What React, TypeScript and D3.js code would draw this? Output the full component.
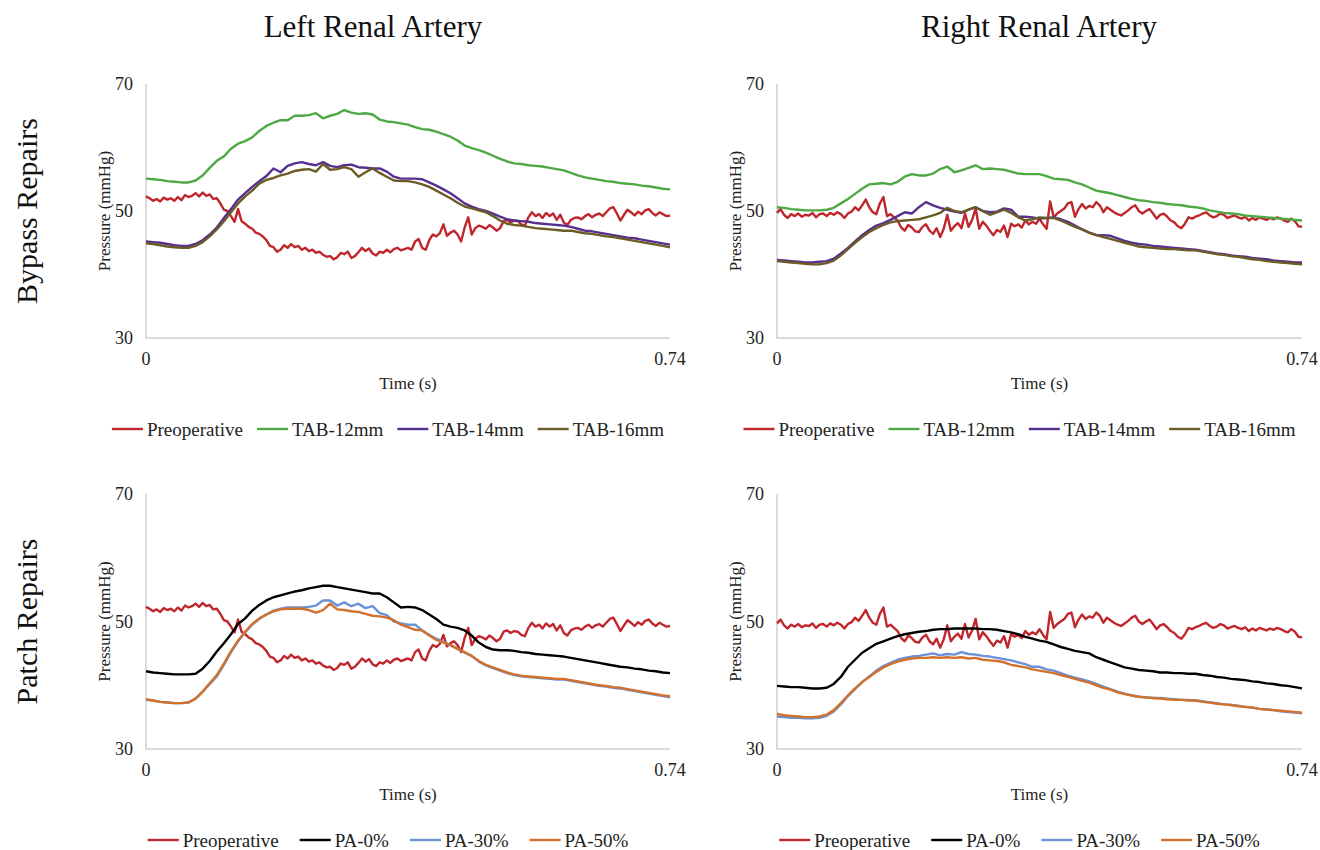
import * as d3 from "d3";

const FONT = "'Liberation Serif', 'Times New Roman', serif";
const T_END = 0.74;
const Y_TICKS = [30, 50, 70];
const X_TICKS = [0, 0.74];
const COLUMN_TITLES = ["Left Renal Artery", "Right Renal Artery"];
const ROW_TITLES = ["Bypass Repairs", "Patch Repairs"];

// preoperative pressure, sampled every 0.005 s
const leftPreop = [
  52.3, 52.0, 51.6, 51.9, 51.5, 52.1, 51.8, 52.0, 51.6, 52.2, 51.7, 52.5, 52.2, 52.4, 52.8, 52.3, 52.9, 52.4, 52.6, 51.9,
  52.0, 51.2, 50.2, 50.0, 49.2, 48.3, 50.3, 48.4, 48.0, 47.5, 47.2, 46.6, 46.4, 46.0, 45.4, 44.5, 44.3, 43.6, 43.9, 44.6,
  44.2, 44.8, 44.3, 44.5, 43.9, 44.2, 43.7, 43.9, 43.4, 43.6, 43.1, 42.8, 42.9, 42.4, 42.7, 43.4, 43.2, 43.6, 42.6, 42.9,
  43.5, 44.2, 43.7, 44.1, 43.3, 43.0, 43.6, 43.4, 43.9, 43.5, 44.0, 44.2, 43.8, 44.0, 44.2, 43.9, 45.2, 45.6, 44.2, 43.9,
  45.4, 46.3, 46.0, 46.5, 47.9, 46.1, 46.6, 46.9, 46.3, 45.2, 47.4, 49.0, 46.3, 47.3, 47.7, 47.5, 47.2, 47.8, 47.4, 46.9,
  47.3, 48.4, 48.6, 48.2, 48.5, 48.4, 47.9, 47.7, 49.0, 49.8, 49.2, 49.5, 48.9, 49.7, 49.2, 49.6, 48.6, 49.4, 48.2, 47.8,
  48.6, 48.9, 49.0, 48.7, 49.2, 49.5, 49.0, 49.4, 49.6, 49.2, 49.8, 50.4, 50.6, 49.6, 48.5, 49.4, 50.2, 49.8, 49.3, 49.9,
  49.5, 50.1, 50.3, 49.7, 49.3, 49.8, 49.5, 49.2, 49.3,
];
const rightPreop = [
  49.7, 50.3, 49.4, 48.9, 49.5, 49.2, 49.6, 49.1, 49.4, 49.3, 49.7, 49.0, 49.5, 49.6, 49.2, 49.7, 49.4, 49.8, 49.5, 48.9,
  49.6, 49.9, 50.6, 50.1, 50.9, 51.8, 50.6, 49.8, 49.5, 51.2, 52.2, 49.2, 49.5, 49.0, 48.5, 47.4, 46.9, 47.8, 47.4, 46.8,
  46.7, 47.5, 47.9, 46.9, 46.4, 47.3, 45.9, 47.2, 49.4, 46.9, 47.6, 48.1, 47.3, 49.6, 47.5, 48.6, 50.4, 47.2, 48.3, 47.7,
  46.9, 46.2, 47.0, 46.7, 47.7, 45.9, 48.0, 47.6, 47.9, 47.4, 48.5, 47.9, 48.3, 48.0, 48.8, 47.9, 47.2, 51.5, 49.0, 49.6,
  50.0, 50.4, 51.2, 51.4, 49.1, 50.3, 51.1, 50.4, 50.8, 50.6, 51.4, 50.9, 49.8, 50.6, 50.2, 49.8, 49.5, 49.3, 49.7, 50.1,
  50.6, 50.9, 50.0, 49.6, 50.0, 50.3, 49.6, 48.8, 49.4, 49.6, 49.1, 48.5, 48.2, 47.6, 47.3, 48.0, 49.0, 48.8, 49.1, 49.3,
  49.6, 49.8, 49.3, 49.0, 49.2, 49.6, 49.4, 48.9, 49.1, 49.3, 49.0, 48.8, 49.1, 48.5, 48.9, 48.6, 49.0, 48.8, 48.6, 48.9,
  48.7, 49.0, 48.8, 48.5, 48.3, 48.8, 48.4, 47.6, 47.5,
];

// repaired cases, sampled every 0.01 s
const leftTab12 = [
  55.1, 55.0, 54.9, 54.7, 54.6, 54.5, 54.5, 54.8, 55.6, 56.8, 57.9, 58.6, 59.8, 60.6, 61.0, 61.6, 62.6, 63.4, 63.9, 64.3,
  64.3, 65.0, 65.0, 65.1, 65.4, 64.6, 65.0, 65.3, 65.9, 65.5, 65.3, 65.4, 65.2, 64.4, 64.1, 64.0, 63.8, 63.6, 63.2, 62.9,
  62.8, 62.5, 62.1, 61.7, 61.1, 60.3, 59.9, 59.6, 59.2, 58.7, 58.2, 57.8, 57.5, 57.4, 57.2, 57.1, 57.0, 56.8, 56.6, 56.4,
  56.0, 55.6, 55.3, 55.1, 54.9, 54.7, 54.6, 54.4, 54.3, 54.2, 54.0, 53.9, 53.7, 53.5, 53.4,
];
const leftTab14 = [
  45.2, 45.1, 45.0, 44.8, 44.6, 44.5, 44.5, 44.8, 45.4, 46.3, 47.4, 48.9, 50.3, 51.8, 52.8, 53.8, 54.7, 55.5, 56.7, 56.1,
  57.1, 57.5, 57.7, 57.4, 57.2, 57.7, 57.1, 56.9, 57.2, 57.3, 56.9, 56.8, 56.7, 56.7, 56.2, 55.4, 55.1, 55.1, 55.1, 55.0,
  54.5, 54.0, 53.4, 52.8, 52.0, 51.2, 50.7, 50.3, 50.0, 49.6, 49.1, 48.7, 48.5, 48.4, 48.3, 48.1, 48.0, 47.9, 47.8, 47.7,
  47.5, 47.2, 46.9, 46.8, 46.6, 46.4, 46.2, 46.0, 45.8, 45.7, 45.5, 45.3, 45.1, 44.9, 44.7,
];
const leftTab16 = [
  44.9, 44.8, 44.6, 44.4, 44.3, 44.2, 44.2, 44.5, 45.1, 46.0, 47.1, 48.4, 49.8, 51.2, 52.3, 53.2, 54.3, 54.9, 55.2, 55.6,
  55.9, 56.3, 56.5, 56.6, 56.2, 57.4, 56.5, 56.6, 56.9, 56.6, 55.4, 56.1, 56.7, 56.0, 55.4, 54.8, 54.7, 54.7, 54.5, 54.2,
  53.8, 53.2, 52.6, 52.0, 51.3, 50.7, 50.4, 50.1, 49.8, 49.2, 48.5, 48.0, 47.8, 47.7, 47.5, 47.3, 47.2, 47.1, 47.0, 46.9,
  46.9, 46.7, 46.5, 46.4, 46.2, 46.0, 45.9, 45.7, 45.5, 45.3, 45.1, 44.9, 44.7, 44.5, 44.3,
];
const rightTab12 = [
  50.6, 50.5, 50.3, 50.2, 50.1, 50.1, 50.1, 50.2, 50.5, 51.2, 51.9, 52.7, 53.5, 54.2, 54.3, 54.4, 54.2, 54.6, 55.4, 55.8,
  55.6, 55.6, 55.9, 56.6, 57.0, 56.1, 56.4, 56.8, 57.2, 56.6, 56.7, 56.6, 56.5, 56.2, 55.9, 55.8, 55.8, 55.8, 55.5, 55.1,
  55.0, 54.9, 54.5, 54.2, 53.7, 53.2, 53.0, 52.8, 52.5, 52.2, 51.9, 51.7, 51.6, 51.4, 51.3, 51.1, 51.0, 50.9, 50.7, 50.6,
  50.4, 50.1, 49.9, 49.7, 49.6, 49.5, 49.3, 49.2, 49.1, 49.0, 48.9, 48.8, 48.7, 48.6, 48.5,
];
const rightTab14 = [
  42.3, 42.2, 42.1, 42.0, 41.9, 41.9, 42.0, 42.1, 42.5, 43.3, 44.2, 45.2, 46.2, 47.0, 47.7, 48.1, 48.6, 49.2, 49.8, 49.6,
  50.6, 51.4, 50.9, 50.5, 50.2, 49.9, 49.7, 50.2, 50.6, 50.0, 49.8, 49.9, 50.4, 50.2, 49.1, 49.1, 49.0, 48.8, 48.9, 49.0,
  48.7, 48.3, 47.7, 47.1, 46.6, 46.2, 46.2, 46.1, 45.7, 45.3, 45.0, 44.8, 44.7, 44.5, 44.4, 44.3, 44.2, 44.1, 44.0, 43.9,
  43.7, 43.5, 43.3, 43.2, 43.0, 42.9, 42.8, 42.6, 42.5, 42.4, 42.2, 42.1, 42.0, 41.9, 41.9,
];
const rightTab16 = [
  42.1, 42.0, 41.9, 41.8, 41.7, 41.6, 41.6, 41.8, 42.2, 43.0, 44.0, 45.0, 45.9, 46.7, 47.3, 47.8, 48.2, 48.4, 48.5, 48.6,
  48.7, 49.0, 49.3, 49.7, 50.5, 50.0, 49.8, 50.2, 50.6, 50.0, 49.4, 49.8, 50.2, 49.7, 49.0, 48.5, 48.7, 49.0, 48.9, 48.9,
  48.5, 48.0, 47.5, 47.1, 46.6, 46.2, 45.9, 45.6, 45.3, 45.0, 44.7, 44.4, 44.3, 44.2, 44.1, 44.0, 44.0, 43.9, 43.8, 43.8,
  43.6, 43.4, 43.2, 43.1, 42.9, 42.8, 42.6, 42.4, 42.3, 42.1, 42.0, 41.9, 41.8, 41.7, 41.6,
];
const leftPa0 = [
  42.2, 42.0, 41.9, 41.8, 41.7, 41.7, 41.7, 41.8, 42.6, 43.8, 45.3, 46.6, 48.0, 49.6, 50.5, 51.7, 52.6, 53.3, 53.8, 54.1,
  54.4, 54.7, 54.9, 55.2, 55.4, 55.6, 55.6, 55.4, 55.2, 55.0, 54.8, 54.6, 54.4, 54.4, 53.8, 53.0, 52.2, 52.3, 52.2, 51.8,
  51.1, 50.4, 49.5, 49.2, 49.0, 48.6, 47.8, 46.7, 46.0, 45.6, 45.5, 45.5, 45.4, 45.2, 45.1, 44.9, 44.8, 44.7, 44.6, 44.5,
  44.3, 44.1, 43.9, 43.7, 43.5, 43.3, 43.1, 42.9, 42.8, 42.6, 42.5, 42.3, 42.2, 42.0, 41.9,
];
const leftPa30 = [
  37.7, 37.6, 37.4, 37.3, 37.2, 37.2, 37.3, 37.9, 39.0, 40.2, 41.4, 43.2, 45.2, 46.9, 48.3, 49.5, 50.4, 51.1, 51.7, 52.0,
  52.2, 52.2, 52.2, 52.3, 52.5, 53.3, 53.3, 52.5, 53.0, 52.4, 52.8, 52.1, 52.4, 51.3, 51.0, 50.0, 49.7, 49.5, 49.5, 48.6,
  47.9, 47.3, 46.8, 46.3, 45.7, 45.1, 44.6, 43.7, 43.1, 42.7, 42.3, 41.9, 41.6, 41.4, 41.3, 41.2, 41.1, 41.0, 40.9, 40.9,
  40.7, 40.5, 40.3, 40.1, 39.9, 39.8, 39.6, 39.5, 39.3, 39.1, 38.9, 38.7, 38.5, 38.3, 38.1,
];
const leftPa50 = [
  37.8, 37.6, 37.4, 37.3, 37.2, 37.2, 37.3, 37.9, 39.0, 40.3, 41.6, 43.4, 45.3, 47.0, 48.4, 49.6, 50.5, 51.1, 51.6, 51.9,
  52.0, 52.0, 52.0, 51.8, 51.4, 51.8, 52.8, 51.9, 51.8, 51.6, 51.5, 51.2, 50.9, 50.8, 50.6, 50.2, 49.5, 49.1, 48.7, 48.6,
  47.8, 47.1, 46.7, 46.3, 45.7, 45.2, 44.6, 43.8, 43.2, 42.8, 42.4, 42.0, 41.7, 41.5, 41.4, 41.3, 41.2, 41.1, 41.0, 41.0,
  40.8, 40.6, 40.4, 40.2, 40.0, 39.9, 39.7, 39.6, 39.4, 39.2, 39.0, 38.8, 38.6, 38.4, 38.3,
];
const rightPa0 = [
  39.9, 39.8, 39.7, 39.7, 39.6, 39.5, 39.5, 39.6, 40.2, 41.3, 42.9, 44.0, 45.1, 45.8, 46.5, 46.9, 47.3, 47.7, 48.0, 48.2,
  48.4, 48.5, 48.7, 48.8, 48.8, 48.9, 48.9, 48.9, 48.9, 48.8, 48.8, 48.7, 48.5, 48.3, 48.0, 47.6, 47.3, 47.0, 46.8, 46.4,
  46.0, 45.7, 45.4, 45.2, 45.0, 44.4, 44.0, 43.6, 43.2, 42.8, 42.6, 42.4, 42.3, 42.2, 42.0, 42.0, 41.9, 41.9, 41.8, 41.8,
  41.6, 41.5, 41.3, 41.2, 41.0, 40.9, 40.8, 40.6, 40.5, 40.3, 40.2, 40.0, 39.9, 39.7, 39.5,
];
const rightPa30 = [
  35.1, 35.0, 34.9, 34.9, 34.8, 34.8, 34.9, 35.2, 35.9, 37.0, 38.3, 39.4, 40.5, 41.4, 42.3, 43.0, 43.5, 44.0, 44.3, 44.5,
  44.6, 44.8, 45.0, 44.7, 44.9, 44.8, 45.2, 44.9, 44.8, 44.6, 44.5, 44.3, 44.1, 43.9, 43.6, 43.3, 42.9, 42.9, 42.5, 42.3,
  41.9, 41.5, 41.2, 40.9, 40.6, 40.2, 39.8, 39.4, 39.0, 38.7, 38.4, 38.2, 38.1, 38.0, 38.0, 37.9, 37.8, 37.7, 37.7, 37.6,
  37.5, 37.3, 37.2, 37.0, 36.9, 36.8, 36.6, 36.5, 36.3, 36.2, 36.1, 35.9, 35.8, 35.7, 35.6,
];
const rightPa50 = [
  35.5, 35.3, 35.2, 35.1, 35.0, 35.0, 35.1, 35.4, 36.1, 37.2, 38.4, 39.5, 40.5, 41.3, 42.1, 42.8, 43.3, 43.7, 44.0, 44.2,
  44.3, 44.3, 44.4, 44.3, 44.4, 44.3, 44.4, 44.2, 44.3, 44.0, 43.9, 43.8, 43.6, 43.2, 43.0, 42.8, 42.5, 42.3, 42.1, 41.9,
  41.6, 41.3, 41.0, 40.7, 40.4, 40.0, 39.6, 39.3, 38.9, 38.6, 38.4, 38.2, 38.1, 38.0, 37.9, 37.8, 37.7, 37.7, 37.6, 37.6,
  37.4, 37.3, 37.1, 37.0, 36.9, 36.7, 36.6, 36.5, 36.3, 36.2, 36.1, 36.0, 35.9, 35.8, 35.7,
];

interface Series {
  name: string;
  color: string;
  values: number[];
}

const RED = "#c0272d";
const bypassLeft: Series[] = [
  { name: "Preoperative", color: RED, values: leftPreop },
  { name: "TAB-12mm", color: "#4ea843", values: leftTab12 },
  { name: "TAB-14mm", color: "#57308f", values: leftTab14 },
  { name: "TAB-16mm", color: "#6b5b24", values: leftTab16 },
];
const bypassRight: Series[] = [
  { name: "Preoperative", color: RED, values: rightPreop },
  { name: "TAB-12mm", color: "#4ea843", values: rightTab12 },
  { name: "TAB-14mm", color: "#57308f", values: rightTab14 },
  { name: "TAB-16mm", color: "#6b5b24", values: rightTab16 },
];
const patchLeft: Series[] = [
  { name: "Preoperative", color: RED, values: leftPreop },
  { name: "PA-0%", color: "#000000", values: leftPa0 },
  { name: "PA-30%", color: "#6b91d6", values: leftPa30 },
  { name: "PA-50%", color: "#d2712c", values: leftPa50 },
];
const patchRight: Series[] = [
  { name: "Preoperative", color: RED, values: rightPreop },
  { name: "PA-0%", color: "#000000", values: rightPa0 },
  { name: "PA-30%", color: "#6b91d6", values: rightPa30 },
  { name: "PA-50%", color: "#d2712c", values: rightPa50 },
];

let ctx: CanvasRenderingContext2D | null = null;
const textWidth = (s: string, size: number) => {
  if (!ctx) ctx = document.createElement("canvas").getContext("2d");
  if (!ctx) return s.length * size * 0.5;
  ctx.font = `${size}px ${FONT}`;
  return ctx.measureText(s).width;
};

interface PanelProps {
  x0: number;
  x1: number;
  top: number;
  bottom: number;
  series: Series[];
  legendGap: number;
}

const Panel = ({ x0, x1, top, bottom, series, legendGap }: PanelProps) => {
  const x = d3.scaleLinear().domain([0, T_END]).range([x0, x1]);
  const y = d3.scaleLinear().domain([30, 70]).range([bottom, top]);
  const line = d3
    .line<number>()
    .x((_, i, arr) => x((i * T_END) / ((arr as number[]).length - 1)))
    .y((d) => y(d));

  // legend layout
  const legendSize = 19;
  const lineLen = 31;
  const items = series.map((s) => ({ ...s, w: lineLen + 4 + textWidth(s.name, legendSize) }));
  const total = d3.sum(items, (d) => d.w) + legendGap * (items.length - 1);
  let cursor = (x0 + x1) / 2 - 20 - total / 2;
  const legendY = bottom + 91;
  const placed = items.map((it) => {
    const p = { ...it, x: cursor };
    cursor += it.w + legendGap;
    return p;
  });

  return (
    <g>
      {Y_TICKS.map((t) => (
        <text
          key={t}
          x={x0 - 13}
          y={y(t)}
          textAnchor="end"
          dominantBaseline="central"
          fontSize={18}
          fill="#222"
        >
          {t}
        </text>
      ))}
      {X_TICKS.map((t) => (
        <text key={t} x={x(t)} y={bottom + 27} textAnchor="middle" fontSize={18} fill="#222">
          {t}
        </text>
      ))}
      <text
        transform={`translate(${x0 - 42},${(top + bottom) / 2}) rotate(-90)`}
        textAnchor="middle"
        dominantBaseline="central"
        fontSize={17}
        fill="#222"
      >
        Pressure (mmHg)
      </text>
      <text x={(x0 + x1) / 2} y={bottom + 51} textAnchor="middle" fontSize={17} fill="#222">
        Time (s)
      </text>
      <path
        d={`M${x0},${top}V${bottom}H${x1}`}
        fill="none"
        stroke="#cfcfcf"
        strokeWidth={1.5}
      />
      {series.map((s) => (
        <path
          key={s.name}
          d={line(s.values) ?? ""}
          fill="none"
          stroke={s.color}
          strokeWidth={2.4}
          strokeLinejoin="round"
        />
      ))}
      {placed.map((p) => (
        <g key={p.name}>
          <line x1={p.x} x2={p.x + lineLen} y1={legendY} y2={legendY} stroke={p.color} strokeWidth={2.4} />
          <text
            x={p.x + lineLen + 4}
            y={legendY}
            dominantBaseline="central"
            fontSize={legendSize}
            fill="#222"
          >
            {p.name}
          </text>
        </g>
      ))}
    </g>
  );
};

export default function App() {
  const cols = [
    { x0: 146, x1: 670, titleX: 373 },
    { x0: 777, x1: 1302, titleX: 1039 },
  ];
  const rows = [
    { top: 84, bottom: 338, sets: [bypassLeft, bypassRight], gap: 14 },
    { top: 494, bottom: 749, sets: [patchLeft, patchRight], gap: 21 },
  ];
  return (
    <svg
      width={1320}
      height={850}
      style={{ position: "absolute", left: 0, top: 0, background: "#fff" }}
      fontFamily={FONT}
    >
      {COLUMN_TITLES.map((t, i) => (
        <text key={t} x={cols[i].titleX} y={37} textAnchor="middle" fontSize={31} fill="#111">
          {t}
        </text>
      ))}
      {ROW_TITLES.map((t, i) => (
        <text
          key={t}
          transform={`translate(26,${(rows[i].top + rows[i].bottom) / 2}) rotate(-90)`}
          textAnchor="middle"
          dominantBaseline="central"
          fontSize={30}
          fill="#111"
        >
          {t}
        </text>
      ))}
      {rows.map((r, ri) =>
        cols.map((c, ci) => (
          <Panel
            key={`${ri}-${ci}`}
            x0={c.x0}
            x1={c.x1}
            top={r.top}
            bottom={r.bottom}
            series={r.sets[ci]}
            legendGap={r.gap}
          />
        ))
      )}
    </svg>
  );
}
